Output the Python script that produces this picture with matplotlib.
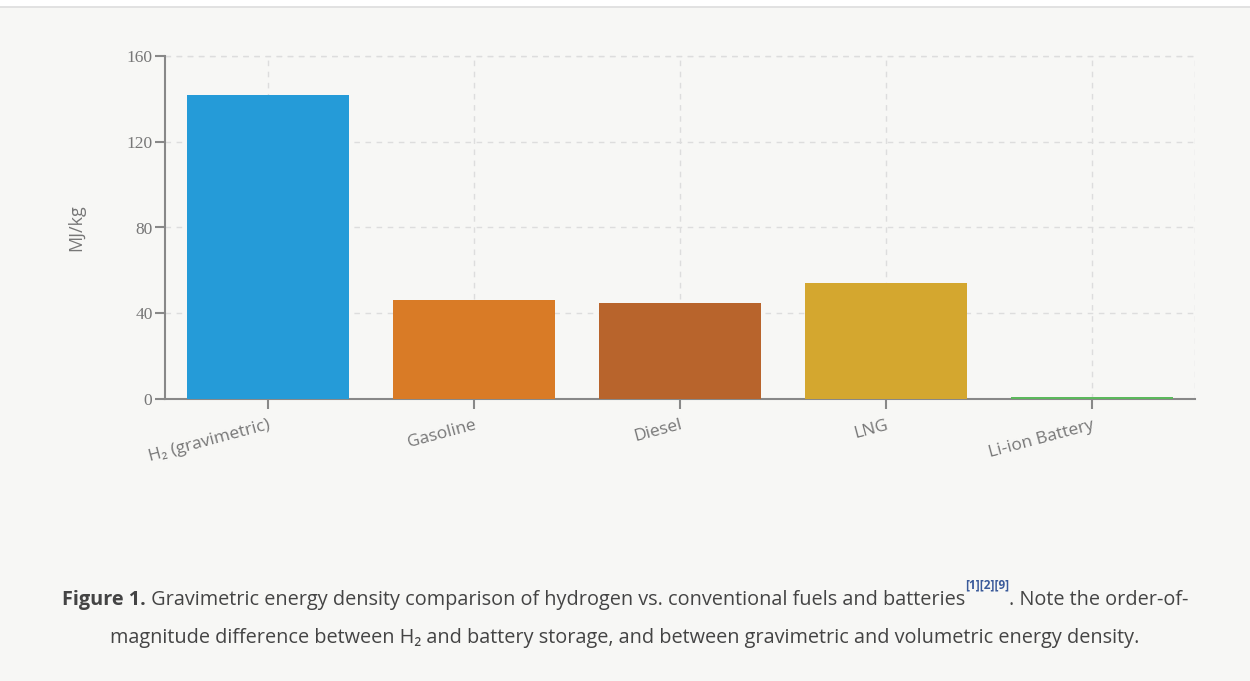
import matplotlib
matplotlib.use("Agg")
import matplotlib.pyplot as plt
from matplotlib.patches import Rectangle
from matplotlib.lines import Line2D

categories = ["H\u2082 (gravimetric)", "Gasoline", "Diesel", "LNG", "Li-ion Battery"]
values = [142, 46, 45, 54, 0.9]
colors = ["#259bd8", "#d97b26", "#b8642c", "#d4a72f", "#5cb85c"]
yticks = [0, 40, 80, 120, 160]
ylabel = "MJ/kg"

BG = "#f7f7f5"
fig = plt.figure(figsize=(12.5, 6.81), dpi=100)
fig.patch.set_facecolor(BG)
# white strip + top border line
fig.patches.append(Rectangle((0, 1 - 7/681), 1, 7/681, transform=fig.transFigure,
                             facecolor="white", edgecolor="none", zorder=0))
fig.lines.append(Line2D([0, 1], [1 - 7/681, 1 - 7/681], transform=fig.transFigure,
                        color="#dddddd", lw=1.2))

ax = fig.add_axes([165/1250, 1 - 399/681, 1030/1250, 343/681])
ax.set_facecolor(BG)
x = list(range(len(categories)))
ax.bar(x, values, width=0.79, color=colors, zorder=3)
ax.set_xlim(-0.5, len(categories) - 0.5)
ax.set_ylim(0, 160)
ax.set_yticks(yticks)
ax.set_yticklabels([str(v) for v in yticks], family="Liberation Serif", fontsize=12.5, color="#777777")
ax.set_xticks(x)
ax.set_xticklabels(categories, rotation=15, ha="right", rotation_mode="anchor",
                   fontsize=12.5, color="#777777", family="Open Sans")
ax.tick_params(axis="x", length=7, width=1.5, color="#888888", pad=6)
ax.tick_params(axis="y", length=7, width=1.5, color="#888888", pad=2)
for s in ["top", "right"]:
    ax.spines[s].set_visible(False)
for s in ["left", "bottom"]:
    ax.spines[s].set_color("#888888")
    ax.spines[s].set_linewidth(1.5)
ax.grid(True, linestyle=(0, (4, 4)), color="#dddddd", lw=1, zorder=0)
ax.axvline(len(categories) - 0.5, linestyle=(0, (4, 4)), color="#dddddd", lw=1, zorder=0)
ax.axhline(160, linestyle=(0, (4, 4)), color="#dddddd", lw=1, zorder=0, clip_on=False)
ax.set_ylabel(ylabel, fontsize=13, color="#777777", family="Open Sans")
ax.yaxis.set_label_coords(-0.077, 0.5)

# caption
fig.canvas.draw()
renderer = fig.canvas.get_renderer()

def draw_line(pieces):
    texts = []
    for s, yy, kw in pieces:
        t = fig.text(0, yy, s, **kw)
        texts.append(t)
    widths = [t.get_window_extent(renderer).width for t in texts]
    total = sum(widths)
    xpos = (1250 - total) / 2
    for t, w in zip(texts, widths):
        t.set_x(xpos / 1250)
        xpos += w

base = dict(fontsize=14.3, color="#444444", family="Open Sans", va="center")
y1 = 1 - 600/681
y2 = 1 - 638/681
line1 = [
    ("Figure 1.", y1, dict(base, weight="bold")),
    (" Gravimetric energy density comparison of hydrogen vs. conventional fuels and batteries", y1, dict(base)),
    ("[1][2][9]", 1 - 585/681, dict(base, fontsize=8.5, color="#3a5a9a", weight="bold")),
    (". Note the order-of-", y1, dict(base)),
]
draw_line(line1)
line2 = [("magnitude difference between H\u2082 and battery storage, and between gravimetric and volumetric energy density.",
          y2, dict(base))]
draw_line(line2)

fig.savefig("out.png", dpi=100, facecolor=BG)
